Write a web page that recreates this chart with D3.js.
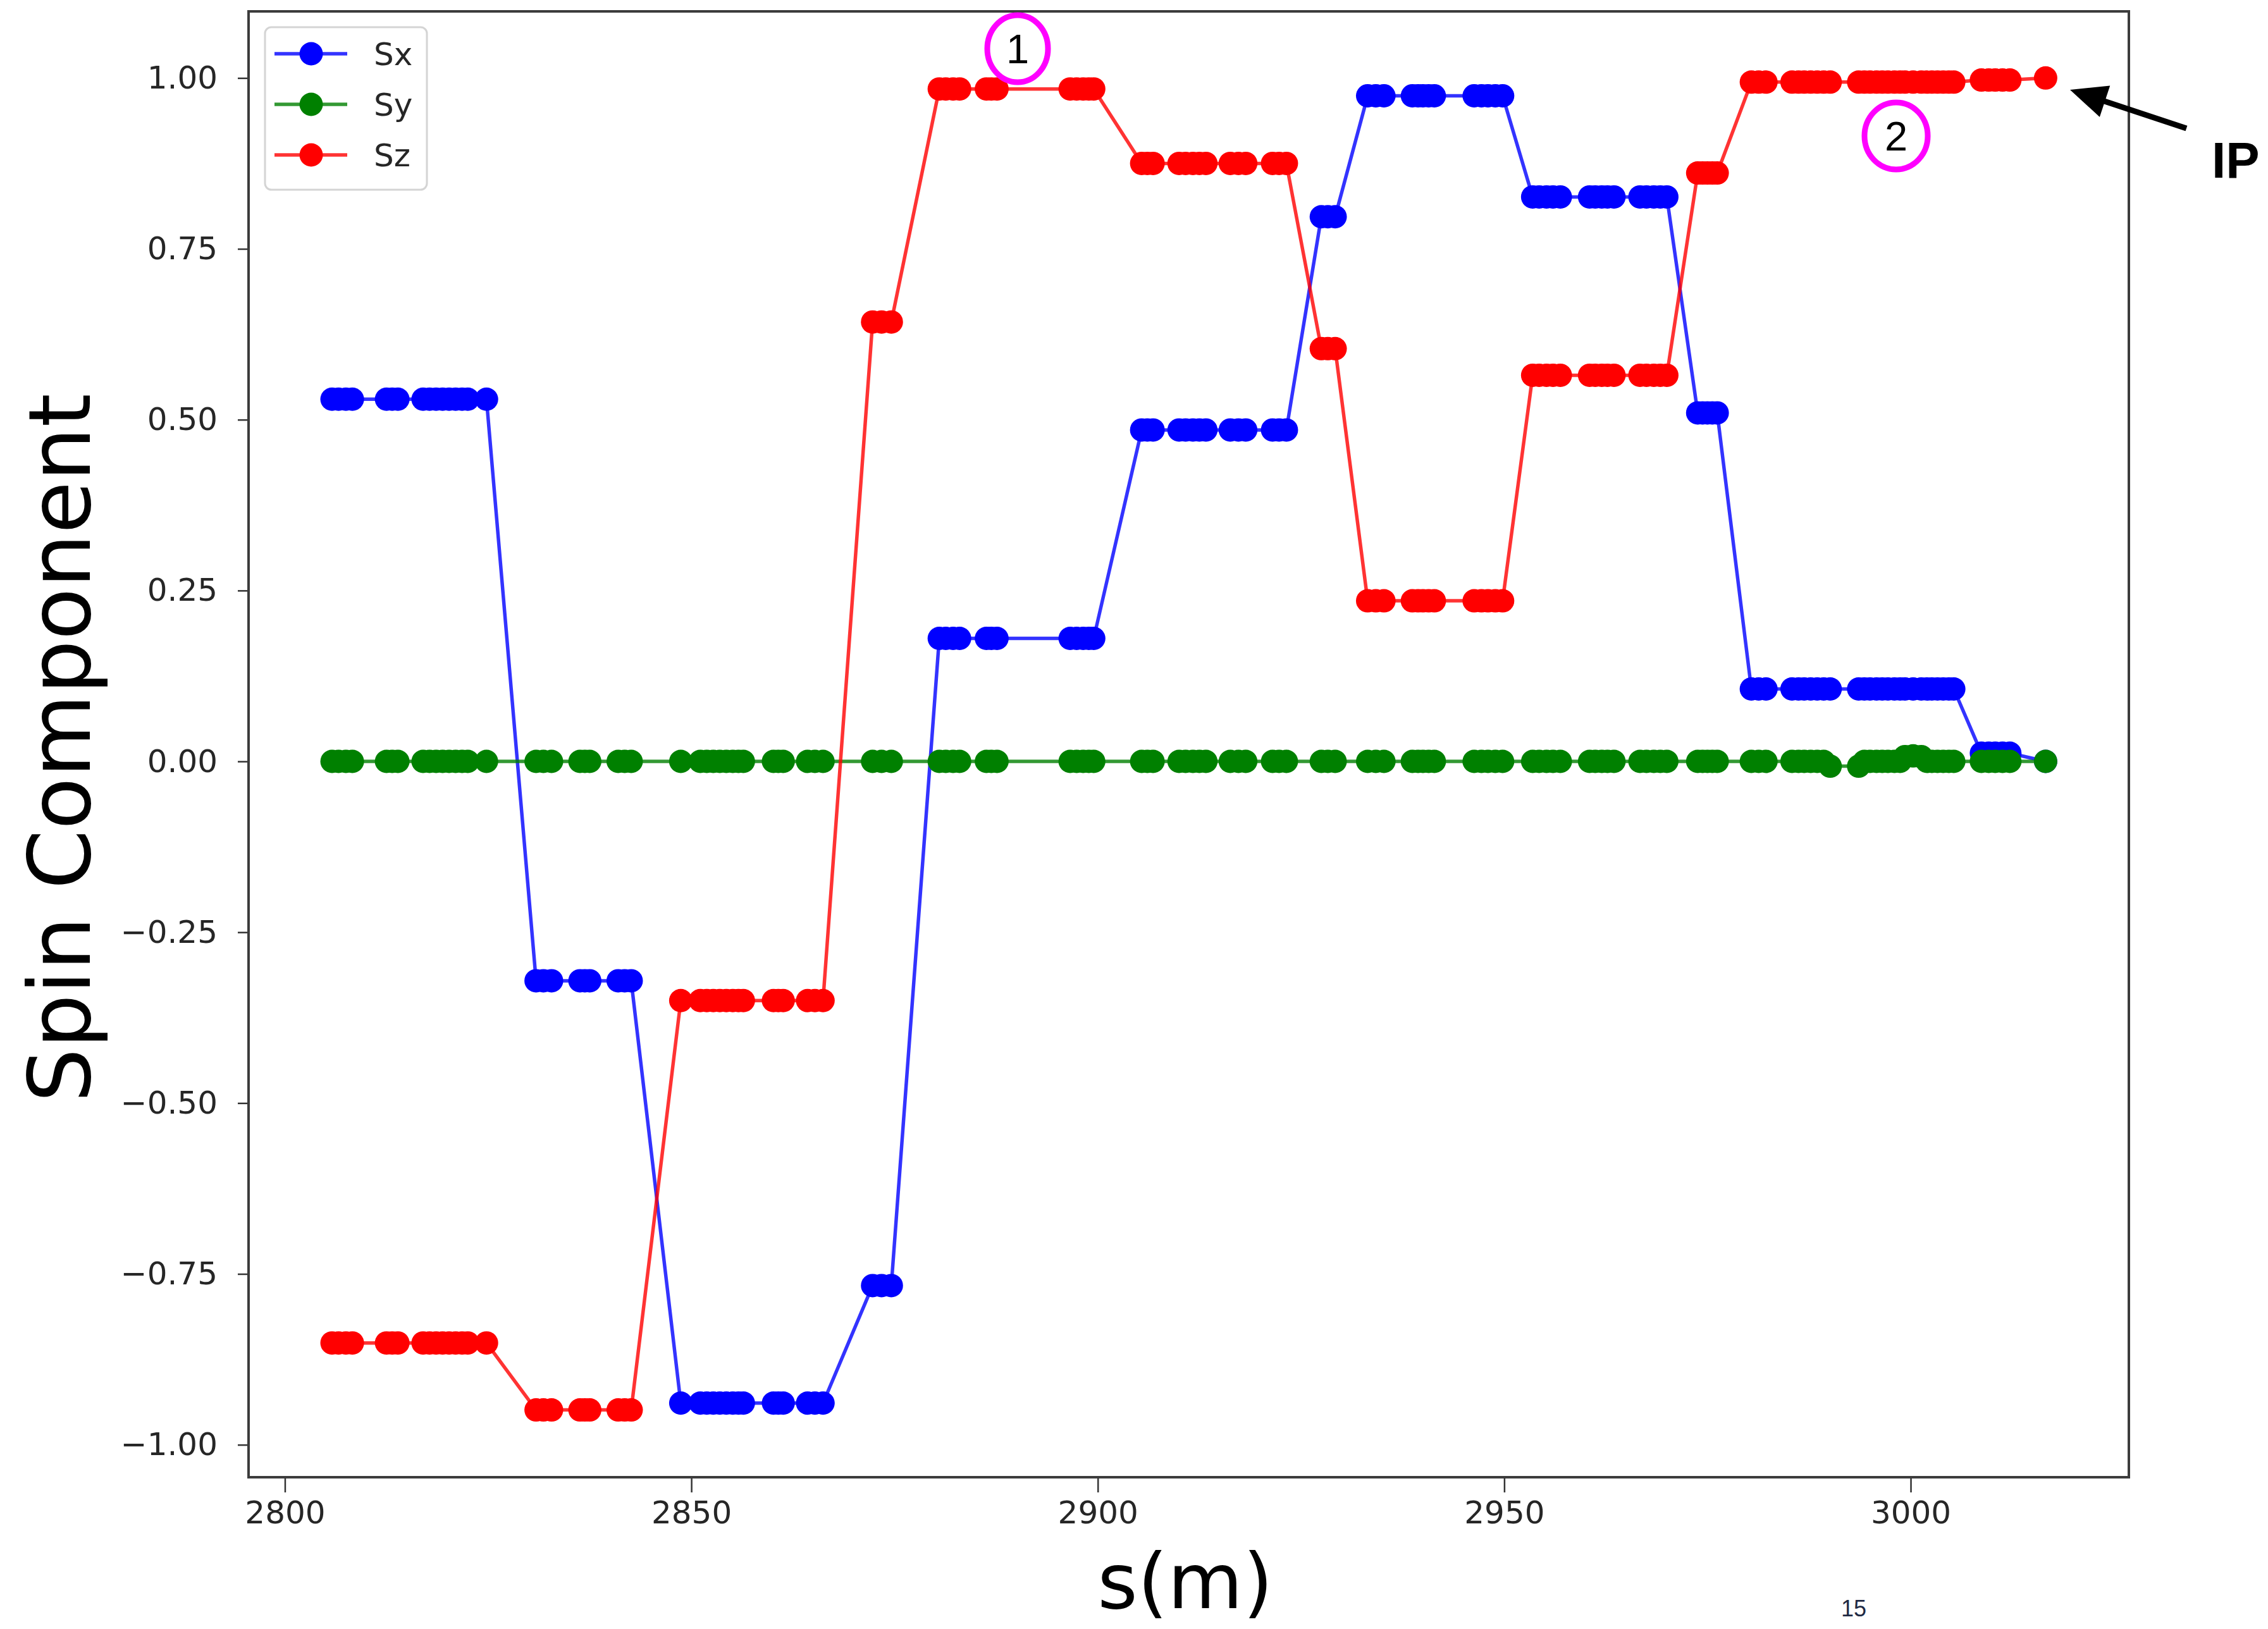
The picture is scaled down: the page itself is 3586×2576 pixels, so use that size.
<!DOCTYPE html>
<html>
<head>
<meta charset="utf-8">
<script src="https://cdn.jsdelivr.net/npm/d3@7"></script>
<style>
  html, body { margin: 0; padding: 0; background: #fff; }
  svg { display: block; }
</style>
</head>
<body>
<script>
// Tracking points s (m), grouped by lattice element
const elementPositions = [
  [2805.8, 2806.6, 2807.5, 2808.3],
  [2812.5, 2813.2, 2813.9],
  [2817.0, 2817.8, 2818.6, 2819.4, 2820.2, 2821.0, 2821.8, 2822.5, 2824.8],
  [2830.9, 2831.8, 2832.8],
  [2836.3, 2836.9, 2837.5],
  [2841.0, 2841.8, 2842.6],
  [2848.7, 2851.1, 2851.9, 2852.7, 2853.5, 2854.3, 2855.1, 2855.8, 2856.4],
  [2860.1, 2860.7, 2861.3],
  [2864.3, 2865.2, 2866.2],
  [2872.3, 2873.4, 2874.6],
  [2880.5, 2881.3, 2882.2, 2883.0],
  [2886.3, 2886.9, 2887.6],
  [2896.6, 2897.4, 2898.2, 2898.9, 2899.5],
  [2905.4, 2906.1, 2906.8],
  [2910.0, 2910.8, 2911.7, 2912.5, 2913.3],
  [2916.3, 2917.3, 2918.2],
  [2921.5, 2922.3, 2923.2],
  [2927.5, 2928.3, 2929.2],
  [2933.2, 2934.2, 2935.2],
  [2938.7, 2939.4, 2940.0, 2940.7, 2941.4],
  [2946.3, 2947.2, 2948.0, 2948.9, 2949.8],
  [2953.5, 2954.3, 2955.2, 2956.0, 2956.9],
  [2960.5, 2961.2, 2962.0, 2962.7, 2963.5],
  [2966.7, 2967.5, 2968.4, 2969.2, 2970.0],
  [2973.8, 2974.4, 2975.0, 2975.6, 2976.2],
  [2980.4, 2981.3, 2982.2],
  [2985.4, 2986.2, 2986.9, 2987.7, 2988.5, 2989.3, 2990.1],
  [2993.6, 2994.3, 2995.0, 2995.8, 2996.5, 2997.2, 2998.0, 2998.7, 2999.3, 3000.3, 3001.3, 3002.0, 3002.6, 3003.3, 3004.0, 3004.7, 3005.3],
  [3008.7, 3009.6, 3010.4, 3011.3, 3012.2],
  [3016.6]
];

// Sx and Sz, one value per element
const sxByElement = [
  0.530, 0.530, 0.530,
  -0.321, -0.321, -0.321,
  -0.939, -0.939, -0.939,
  -0.767,
  0.180, 0.180, 0.180,
  0.485, 0.485, 0.485, 0.485,
  0.797,
  0.974, 0.974, 0.974,
  0.826, 0.826, 0.826,
  0.510,
  0.106, 0.106, 0.106,
  0.012,
  0.000
];

const szByElement = [
  -0.851, -0.851, -0.851,
  -0.949, -0.949, -0.949,
  -0.350, -0.350, -0.350,
  0.643,
  0.984, 0.984, 0.984,
  0.875, 0.875, 0.875, 0.875,
  0.604,
  0.235, 0.235, 0.235,
  0.565, 0.565, 0.565,
  0.861,
  0.994, 0.994, 0.994,
  0.997,
  1.000
];

// Sy at every tracking point
const syByElement = [
  [0, 0, 0, 0],
  [0, 0, 0],
  [0, 0, 0, 0, 0, 0, 0, 0, 0],
  [0, 0, 0],
  [0, 0, 0],
  [0, 0, 0],
  [0, 0, 0, 0, 0, 0, 0, 0, 0],
  [0, 0, 0],
  [0, 0, 0],
  [0, 0, 0],
  [0, 0, 0, 0],
  [0, 0, 0],
  [0, 0, 0, 0, 0],
  [0, 0, 0],
  [0, 0, 0, 0, 0],
  [0, 0, 0],
  [0, 0, 0],
  [0, 0, 0],
  [0, 0, 0],
  [0, 0, 0, 0, 0],
  [0, 0, 0, 0, 0],
  [0, 0, 0, 0, 0],
  [0, 0, 0, 0, 0],
  [0, 0, 0, 0, 0],
  [0, 0, 0, 0, 0],
  [0, 0, 0],
  [0, 0, 0, 0, 0, 0, -0.007],
  [-0.007, 0, 0, 0, 0, 0, 0, 0, 0.007, 0.008, 0.007, 0, 0, 0, 0, 0, 0],
  [0, 0, 0, 0, 0],
  [0]
];

const seriesNames = ["Sx", "Sy", "Sz"];
const seriesColors = ["#0000ff", "#008000", "#ff0000"];
const yTicks = [-1.0, -0.75, -0.5, -0.25, 0.0, 0.25, 0.5, 0.75, 1.0];
const xTicks = [2800, 2850, 2900, 2950, 3000];

// Flatten element groups into point series
const sxPts = [], syPts = [], szPts = [];
elementPositions.forEach((group, e) => {
  group.forEach((s, k) => {
    sxPts.push({ s: s, v: sxByElement[e] });
    syPts.push({ s: s, v: syByElement[e][k] });
    szPts.push({ s: s, v: szByElement[e] });
  });
});

const W = 3586, H = 2576;
const plot = { left: 393, right: 3366, top: 18, bottom: 2336 };

const svg = d3.select("body").append("svg")
  .attr("width", W).attr("height", H)
  .attr("viewBox", `0 0 ${W} ${H}`);

svg.append("rect").attr("width", W).attr("height", H).attr("fill", "#fff");

const x = d3.scaleLinear().domain([2795.53, 3026.84]).range([plot.left, plot.right]);
const y = d3.scaleLinear().domain([-1.0475, 1.0975]).range([plot.bottom, plot.top]);

svg.append("defs").append("clipPath").attr("id", "plotArea")
  .append("rect")
  .attr("x", plot.left).attr("y", plot.top)
  .attr("width", plot.right - plot.left).attr("height", plot.bottom - plot.top);

// Axes
const axisFont = "'DejaVu Sans', sans-serif";
const gx = svg.append("g")
  .attr("transform", `translate(0,${plot.bottom})`)
  .call(d3.axisBottom(x).tickValues(xTicks).tickFormat(d3.format("d")).tickSize(24).tickPadding(13));
gx.select(".domain").remove();
gx.selectAll(".tick line").attr("stroke", "#333").attr("stroke-width", 2.5);
gx.selectAll(".tick text")
  .attr("font-family", axisFont).attr("font-size", 50).attr("fill", "#262626");

const gy = svg.append("g")
  .attr("transform", `translate(${plot.left},0)`)
  .call(d3.axisLeft(y).tickValues(yTicks).tickFormat(d3.format(".2f")).tickSize(17).tickPadding(32));
gy.select(".domain").remove();
gy.selectAll(".tick line").attr("stroke", "#333").attr("stroke-width", 2.5);
gy.selectAll(".tick text")
  .attr("font-family", axisFont).attr("font-size", 50).attr("fill", "#262626");

// Series: line then markers, drawn in order Sx, Sy, Sz
const seriesPts = [sxPts, syPts, szPts];
const dataArea = svg.append("g").attr("clip-path", "url(#plotArea)");
const line = d3.line().x(d => x(d.s)).y(d => y(d.v));

seriesPts.forEach((pts, i) => {
  const g = dataArea.append("g");
  g.append("path")
    .datum(pts)
    .attr("d", line)
    .attr("fill", "none")
    .attr("stroke", seriesColors[i])
    .attr("stroke-opacity", 0.8)
    .attr("stroke-width", 5.5)
    .attr("stroke-linejoin", "round");
  g.selectAll("circle").data(pts).join("circle")
    .attr("cx", d => x(d.s))
    .attr("cy", d => y(d.v))
    .attr("r", 18.5)
    .attr("fill", seriesColors[i]);
});

// Frame
svg.append("rect")
  .attr("x", plot.left).attr("y", plot.top)
  .attr("width", plot.right - plot.left).attr("height", plot.bottom - plot.top)
  .attr("fill", "none").attr("stroke", "#3c3c3c").attr("stroke-width", 4);

// Legend
const legend = svg.append("g");
legend.append("rect")
  .attr("x", 419).attr("y", 43).attr("width", 256).attr("height", 257)
  .attr("rx", 10).attr("ry", 10)
  .attr("fill", "#fff").attr("fill-opacity", 0.85)
  .attr("stroke", "#d4d4d4").attr("stroke-width", 3);
const legendY = [85, 165, 245];
seriesNames.forEach((name, i) => {
  const row = legend.append("g").attr("transform", `translate(0,${legendY[i]})`);
  row.append("line").attr("x1", 434).attr("x2", 549).attr("y1", 0).attr("y2", 0)
    .attr("stroke", seriesColors[i]).attr("stroke-opacity", 0.8).attr("stroke-width", 5.5);
  row.append("circle").attr("cx", 492).attr("cy", 0).attr("r", 18.5).attr("fill", seriesColors[i]);
  row.append("text").attr("x", 591).attr("y", 0).attr("dy", "0.35em")
    .attr("font-family", axisFont).attr("font-size", 50).attr("fill", "#262626")
    .text(name);
});

// Axis titles
svg.append("text")
  .attr("transform", "translate(142,1183) rotate(-90)")
  .attr("text-anchor", "middle")
  .attr("font-family", axisFont).attr("font-size", 135).attr("fill", "#000")
  .text("Spin Component");

svg.append("text")
  .attr("x", 1874).attr("y", 2543)
  .attr("text-anchor", "middle")
  .attr("font-family", axisFont).attr("font-size", 122).attr("fill", "#000")
  .text("s(m)");

// Numbered markers
const marks = [
  { label: "1", cx: 1609, cy: 77, rx: 48, ry: 53 },
  { label: "2", cx: 2998, cy: 215, rx: 50, ry: 53 }
];
marks.forEach(m => {
  svg.append("ellipse")
    .attr("cx", m.cx).attr("cy", m.cy).attr("rx", m.rx).attr("ry", m.ry)
    .attr("fill", "none").attr("stroke", "#ff00ff").attr("stroke-width", 9);
  svg.append("text")
    .attr("x", m.cx).attr("y", m.cy).attr("dy", "0.36em")
    .attr("text-anchor", "middle")
    .attr("font-family", "'Liberation Sans', Arial, sans-serif").attr("font-size", 65)
    .attr("fill", "#000")
    .text(m.label);
});

// IP arrow
const tail = [3457, 203], tip = [3273, 142];
const dx = tip[0] - tail[0], dy = tip[1] - tail[1];
const len = Math.hypot(dx, dy);
const ux = dx / len, uy = dy / len;
const headLen = 58, headHalf = 26;
const base = [tip[0] - ux * headLen, tip[1] - uy * headLen];
svg.append("line")
  .attr("x1", tail[0]).attr("y1", tail[1])
  .attr("x2", base[0] + ux * 4).attr("y2", base[1] + uy * 4)
  .attr("stroke", "#000").attr("stroke-width", 9);
svg.append("path")
  .attr("d", `M${tip[0]},${tip[1]} L${base[0] - uy * headHalf},${base[1] + ux * headHalf} L${base[0] + uy * headHalf},${base[1] - ux * headHalf} Z`)
  .attr("fill", "#000");
svg.append("text")
  .attr("x", 3497).attr("y", 281)
  .attr("font-family", "'Liberation Sans', Arial, sans-serif").attr("font-size", 80)
  .attr("font-weight", "bold").attr("fill", "#000")
  .text("IP");

// Page number
svg.append("text")
  .attr("x", 2931).attr("y", 2556)
  .attr("text-anchor", "middle")
  .attr("font-family", "'Liberation Sans', Arial, sans-serif").attr("font-size", 36)
  .attr("fill", "#1f2a44")
  .text("15");
</script>
</body>
</html>
